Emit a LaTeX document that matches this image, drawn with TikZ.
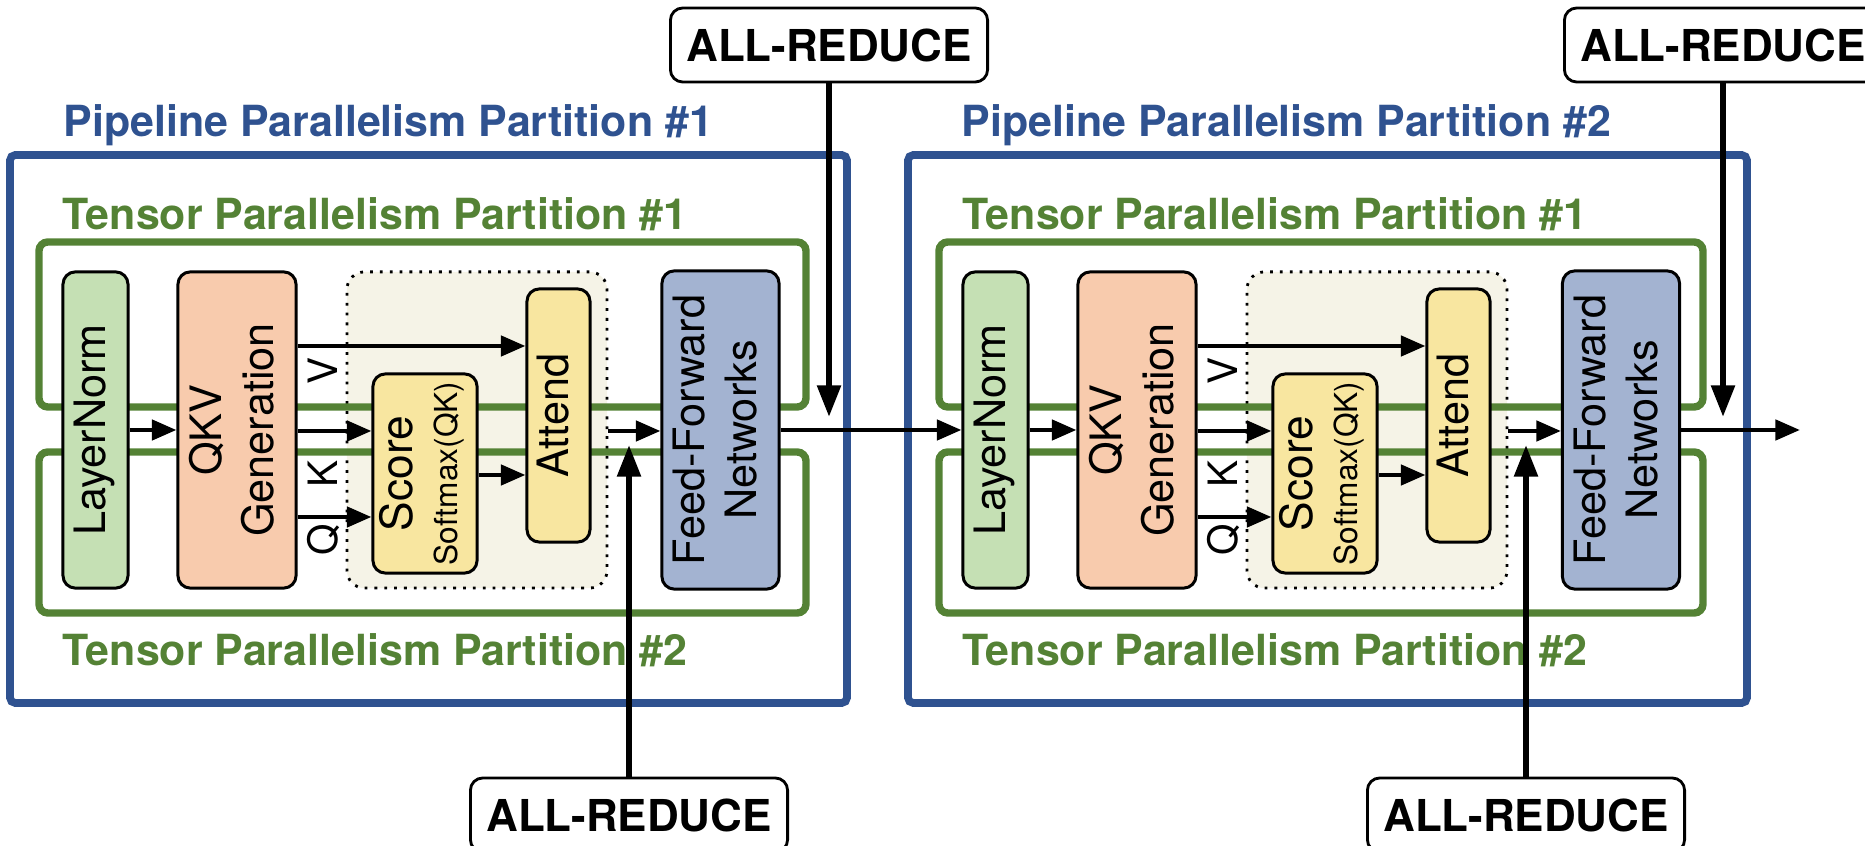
\documentclass[tikz,border=0pt]{standalone}
\usepackage{fontspec}
\usepackage{graphicx}
\setmainfont{TeX Gyre Heros}
\usetikzlibrary{arrows.meta,positioning}

\definecolor{pipeblue}{HTML}{2F5290}
\definecolor{tensgreen}{HTML}{548235}
\definecolor{lnfill}{HTML}{C5E0B4}
\definecolor{qkvfill}{HTML}{F8CBAD}
\definecolor{attfill}{HTML}{F8E6A0}
\definecolor{ffnfill}{HTML}{A3B3D1}
\definecolor{grpfill}{HTML}{F5F3E7}

\newcommand{\vtext}[1]{\rotatebox{90}{\begin{tabular}{@{}c@{}}#1\end{tabular}}}

\begin{document}
\begin{tikzpicture}[
    x=0.01cm, y=-0.01cm,
    box/.style={rectangle, draw=black, line width=0.85pt, rounded corners=3.5pt, inner sep=0pt, text centered, font=\fontsize{12.3}{14.8}\selectfont},
    grp/.style={rectangle, draw=black, dotted, line width=0.8pt, fill=grpfill, rounded corners=5pt, inner sep=0pt, minimum width=2.6cm, minimum height=3.16cm},
    pipe/.style={draw=pipeblue, line width=2.2pt, rounded corners=1.5pt},
    tensor/.style={draw=tensgreen, line width=2.1pt, rounded corners=2.5pt},
    pipetitle/.style={anchor=base west, inner sep=0pt, text=pipeblue, font=\fontsize{12.2}{14}\selectfont\bfseries},
    tenstitle/.style={anchor=base west, inner sep=0pt, text=tensgreen, font=\fontsize{12.2}{14}\selectfont\bfseries},
    qkvlbl/.style={rotate=90, inner sep=0pt, font=\fontsize{11.5}{14}\selectfont},
    reduce/.style={rectangle, draw=black, line width=0.8pt, rounded corners=3.5pt, fill=white, minimum width=3.17cm, minimum height=0.74cm, font=\fontsize{12.5}{15}\selectfont\bfseries},
    arrow/.style={-{Triangle[length=7pt,width=5.7pt]}, line width=1.3pt},
    bigarrow/.style={-{Triangle[length=9pt,width=6.5pt]}, line width=1.7pt}
]
\useasboundingbox (0,0) rectangle (1865,846);

\draw[pipe] (10,155) rectangle (847,703);
\draw[pipe] (908,155) rectangle (1747,703);
\node[pipetitle] (pp1) at (63,137) {Pipeline Parallelism Partition \#1};
\node[pipetitle] (pp2) at (961,137) {Pipeline Parallelism Partition \#2};
\node[tenstitle] (tpa1) at (62,230) {Tensor Parallelism Partition \#1};
\node[tenstitle] (tpb1) at (62,666) {Tensor Parallelism Partition \#2};
\node[tenstitle] (tpa2) at (962,230) {Tensor Parallelism Partition \#1};
\node[tenstitle] (tpb2) at (962,666) {Tensor Parallelism Partition \#2};

\node[grp] (grp1) at (477,430) {};
\node[grp] (grp2) at (1377,430) {};

\draw[tensor] (39,242) rectangle (806,407);
\draw[tensor] (39,452) rectangle (806,613);
\draw[tensor] (939,242) rectangle (1703,407);
\draw[tensor] (939,452) rectangle (1703,613);

\node[box, fill=lnfill, minimum width=0.65cm, minimum height=3.16cm] (ln1) at (95.5,430) {\vtext{LayerNorm}};
\node[box, fill=qkvfill, minimum width=1.18cm, minimum height=3.16cm] (qkv1) at (237,430) {\vtext{QKV\\Generation}};
\node[box, fill=attfill, minimum width=1.04cm, minimum height=1.99cm] (score1) at (425,473.5) {\vtext{{\fontsize{12.6}{15}\selectfont Score}\\[-2pt]{\fontsize{9}{11}\selectfont Softmax(QK)}}};
\node[box, fill=attfill, minimum width=0.63cm, minimum height=2.53cm] (att1) at (558.5,415.5) {\vtext{Attend}};
\node[box, fill=ffnfill, minimum width=1.17cm, minimum height=3.18cm] (ffn1) at (720.5,430) {\vtext{Feed-Forward\\Networks}};
\node[qkvlbl] (v1) at (323,371) {V};
\node[qkvlbl] (k1) at (323,474) {K};
\node[qkvlbl] (q1) at (323,540) {Q};

\node[box, fill=lnfill, minimum width=0.65cm, minimum height=3.16cm] (ln2) at (995.5,430) {\vtext{LayerNorm}};
\node[box, fill=qkvfill, minimum width=1.18cm, minimum height=3.16cm] (qkv2) at (1137,430) {\vtext{QKV\\Generation}};
\node[box, fill=attfill, minimum width=1.04cm, minimum height=1.99cm] (score2) at (1325,473.5) {\vtext{{\fontsize{12.6}{15}\selectfont Score}\\[-2pt]{\fontsize{9}{11}\selectfont Softmax(QK)}}};
\node[box, fill=attfill, minimum width=0.63cm, minimum height=2.53cm] (att2) at (1458.5,415.5) {\vtext{Attend}};
\node[box, fill=ffnfill, minimum width=1.17cm, minimum height=3.18cm] (ffn2) at (1621,430) {\vtext{Feed-Forward\\Networks}};
\node[qkvlbl] (v2) at (1223,371) {V};
\node[qkvlbl] (k2) at (1223,474) {K};
\node[qkvlbl] (q2) at (1223,540) {Q};

\coordinate (out) at (1800,430);

\draw[arrow] (ln1) -- (qkv1);
\draw[arrow] (qkv1.east |- 0,346) -- (att1.west |- 0,346);
\draw[arrow] (qkv1.east |- 0,431) -- (score1.west |- 0,431);
\draw[arrow] (qkv1.east |- 0,517) -- (score1.west |- 0,517);
\draw[arrow] (score1.east |- 0,475) -- (att1.west |- 0,475);
\draw[arrow] (grp1.east |- 0,431) -- (ffn1.west |- 0,431);
\draw[arrow] (ffn1) -- (ln2);
\draw[arrow] (ln2) -- (qkv2);
\draw[arrow] (qkv2.east |- 0,346) -- (att2.west |- 0,346);
\draw[arrow] (qkv2.east |- 0,431) -- (score2.west |- 0,431);
\draw[arrow] (qkv2.east |- 0,517) -- (score2.west |- 0,517);
\draw[arrow] (score2.east |- 0,475) -- (att2.west |- 0,475);
\draw[arrow] (grp2.east |- 0,431) -- (ffn2.west |- 0,431);
\draw[arrow] (ffn2) -- (out);

\node[reduce] (ar1) at (829,45) {ALL-REDUCE};
\node[reduce] (ar2) at (1723,45) {ALL-REDUCE};
\node[reduce] (ar3) at (629,815) {ALL-REDUCE};
\node[reduce] (ar4) at (1526,815) {ALL-REDUCE};
\coordinate (ar1tip) at (829,417);
\coordinate (ar2tip) at (1723,417);
\coordinate (ar3tip) at (629,445);
\coordinate (ar4tip) at (1526,445);

\draw[bigarrow] (ar1) -- (ar1tip);
\draw[bigarrow] (ar2) -- (ar2tip);
\draw[bigarrow] (ar3) -- (ar3tip);
\draw[bigarrow] (ar4) -- (ar4tip);
\end{tikzpicture}
\end{document}
